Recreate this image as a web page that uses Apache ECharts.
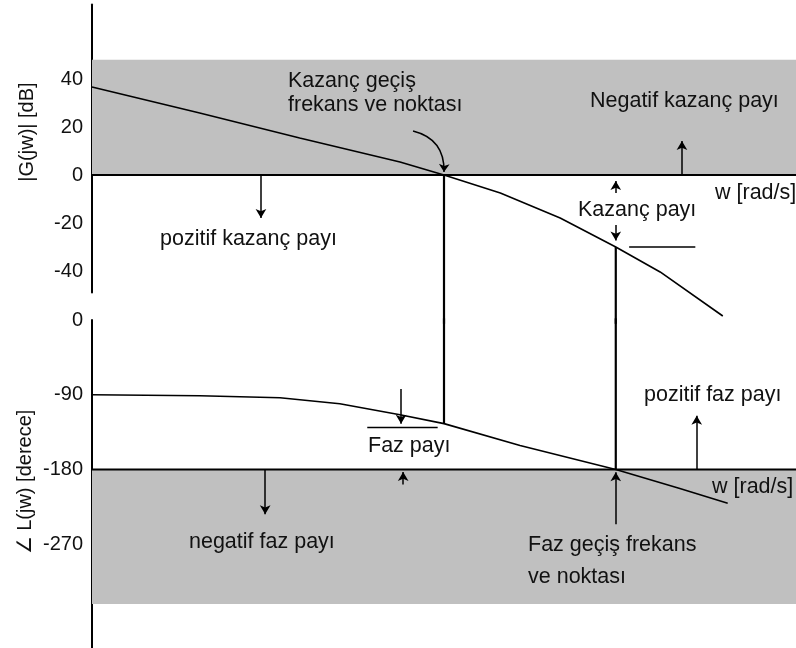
<!DOCTYPE html>
<html><head><meta charset="utf-8">
<script src="https://cdn.jsdelivr.net/npm/echarts@6/dist/echarts.min.js"></script>
<style>html,body{margin:0;padding:0;background:#fff}#c{width:796px;height:648px}</style>
</head><body><div id="c"></div>
<script>
// ---- data (x in arbitrary log-frequency units, 0..10) ----
const xGain = [0, 1.53, 2.95, 4.375, 5.0, 5.8, 6.65, 7.44, 8.07, 8.96];
const gainDb = [36.7, 25.8, 15.4, 5.4, 0, -7.5, -17.9, -30, -40.4, -58.75];
const xPhase = [0, 1.53, 2.67, 3.52, 4.375, 5.0, 6.08, 7.44, 8.35, 9.03];
const phaseDeg = [-90, -91.2, -93.6, -100.8, -114, -124.8, -151.2, -180, -202.8, -220.8];
const gainTicks = [40, 20, 0, -20, -40];
const phaseTicks = [0, -90, -180, -270];
const wGainCross = 5.0;     // kazanç geçiş frekansı
const wPhaseCross = 7.44;   // faz geçiş frekansı
const phaseAtGc = -124.8;
const gainAtPc = -30;
const gainBand = [0, 48];
const phaseBand = [-180, -342];

const FONT = '"Liberation Sans", Arial, sans-serif';
const FS = '21.5px ';
const TXT = '#111';
const chart = echarts.init(document.getElementById('c'), null, {renderer: 'canvas'});

function pairs(xs, ys) { return xs.map((x, i) => [x, ys[i]]); }
function arrow(x1, y1, x2, y2) { return [{coord: [x1, y1]}, {coord: [x2, y2]}]; }
const arrowML = (data) => ({
  silent: true, animation: false,
  symbol: ['none', 'arrow'], symbolSize: [8, 9],
  label: {show: false},
  lineStyle: {color: '#000', width: 1.5, type: 'solid'},
  emphasis: {disabled: true},
  data: data
});
const LINE = (w) => ({color: '#000', width: w});

const option = {
  animation: false,
  backgroundColor: '#fff',
  grid: [
    {left: 92, width: 704, top: 4.6, height: 288},
    {left: 92, width: 704, top: 320, height: 329.17}
  ],
  xAxis: [
    {gridIndex: 0, type: 'value', min: 0, max: 10, show: false},
    {gridIndex: 1, type: 'value', min: 0, max: 10, show: false}
  ],
  yAxis: [
    {gridIndex: 0, type: 'value', min: -49, max: 71,
     axisLine: {show: true, onZero: false, lineStyle: {color: '#000', width: 2}},
     axisTick: {show: false}, splitLine: {show: false},
     axisLabel: {customValues: gainTicks, fontSize: 20, fontFamily: FONT, color: TXT, margin: 9}},
    {gridIndex: 1, type: 'value', min: -395, max: 0,
     axisLine: {show: true, onZero: false, lineStyle: {color: '#000', width: 2}},
     axisTick: {show: false}, splitLine: {show: false},
     axisLabel: {customValues: phaseTicks, fontSize: 20, fontFamily: FONT, color: TXT, margin: 9}}
  ],
  series: [
    // gray bands
    {type: 'line', xAxisIndex: 0, yAxisIndex: 0, data: [], z: 0, silent: true,
     markArea: {silent: true, itemStyle: {color: '#c0c0c0'},
       data: [[{xAxis: 0, yAxis: gainBand[0]}, {xAxis: 10, yAxis: gainBand[1]}]]}},
    {type: 'line', xAxisIndex: 1, yAxisIndex: 1, data: [], z: 0, silent: true,
     markArea: {silent: true, itemStyle: {color: '#c0c0c0'},
       data: [[{xAxis: 0, yAxis: phaseBand[0]}, {xAxis: 10, yAxis: phaseBand[1]}]]}},
    // reference lines 0 dB and -180
    {type: 'line', xAxisIndex: 0, yAxisIndex: 0, data: [[0, 0], [10, 0]], z: 3, silent: true,
     showSymbol: false, lineStyle: LINE(2)},
    {type: 'line', xAxisIndex: 1, yAxisIndex: 1, data: [[0, -180], [10, -180]], z: 3, silent: true,
     showSymbol: false, lineStyle: LINE(2)},
    // gain curve
    {type: 'line', xAxisIndex: 0, yAxisIndex: 0, data: pairs(xGain, gainDb), clip: false,
     showSymbol: false, z: 4, silent: true, lineStyle: LINE(1.6),
     markLine: arrowML([
       arrow(8.38, 0, 8.38, 14.2),
       arrow(2.4, 0, 2.4, -17.9),
       arrow(wPhaseCross, -7.5, wPhaseCross, -2.5),
       arrow(wPhaseCross, -20.8, wPhaseCross, -27.3)
     ])},
    // curved pointer to gain crossover
    {type: 'lines', coordinateSystem: 'cartesian2d', xAxisIndex: 0, yAxisIndex: 0, z: 5, silent: true,
     symbol: ['none', 'arrow'], symbolSize: 8,
     lineStyle: {color: '#000', width: 1.5, curveness: 0.4, opacity: 1},
     data: [{coords: [[4.56, 18.3], [wGainCross, 1.25]]}]},
    // gain margin reference tick
    {type: 'line', xAxisIndex: 0, yAxisIndex: 0, data: [[7.63, gainAtPc], [8.57, gainAtPc]],
     showSymbol: false, z: 4, silent: true, lineStyle: LINE(1.5)},
    // vertical connectors (top part)
    {type: 'line', xAxisIndex: 0, yAxisIndex: 0, data: [[wGainCross, 0], [wGainCross, -62]], clip: false,
     showSymbol: false, z: 4, silent: true, lineStyle: LINE(2.2)},
    {type: 'line', xAxisIndex: 0, yAxisIndex: 0, data: [[wPhaseCross, gainAtPc], [wPhaseCross, -62]], clip: false,
     showSymbol: false, z: 4, silent: true, lineStyle: LINE(2.2)},
    // phase curve
    {type: 'line', xAxisIndex: 1, yAxisIndex: 1, data: pairs(xPhase, phaseDeg), clip: false,
     showSymbol: false, z: 4, silent: true, lineStyle: LINE(1.6),
     markLine: arrowML([
       arrow(4.39, -83, 4.39, -125),
       arrow(4.42, -198, 4.42, -183),
       arrow(8.59, -180, 8.59, -115.2),
       arrow(2.46, -180, 2.46, -234),
       arrow(wPhaseCross, -246, wPhaseCross, -183.5)
     ])},
    // phase margin reference line
    {type: 'line', xAxisIndex: 1, yAxisIndex: 1, data: [[3.91, -129.6], [4.91, -129.6]],
     showSymbol: false, z: 4, silent: true, lineStyle: LINE(1.5)},
    // vertical connectors (bottom part)
    {type: 'line', xAxisIndex: 1, yAxisIndex: 1, data: [[wGainCross, 2], [wGainCross, phaseAtGc]], clip: false,
     showSymbol: false, z: 4, silent: true, lineStyle: LINE(2.2)},
    {type: 'line', xAxisIndex: 1, yAxisIndex: 1, data: [[wPhaseCross, 2], [wPhaseCross, -180]], clip: false,
     showSymbol: false, z: 4, silent: true, lineStyle: LINE(2.2)}
  ],
  graphic: []
};

function txt(text, x, y, extra) {
  extra = extra || {};
  return {
    type: 'text', x: x, y: y, z: 100, silent: true, rotation: extra.rotation || 0,
    style: Object.assign({text: text, font: (extra.fs || FS) + FONT, fill: TXT,
      textAlign: 'left', textVerticalAlign: 'middle', align: 'left', verticalAlign: 'middle', lineHeight: 24}, extra.style || {})
  };
}
option.graphic = [
  txt('Kazanç geçiş\nfrekans ve noktası', 288, 93),
  txt('Negatif kazanç payı', 590, 101),
  txt('w [rad/s]', 715, 193),
  txt('Kazanç payı', 578, 210),
  txt('pozitif kazanç payı', 160, 239),
  txt('Faz payı', 368, 446),
  txt('pozitif faz payı', 644, 395),
  txt('w [rad/s]', 712, 487),
  txt('negatif faz payı', 189, 542),
  txt('Faz geçiş frekans\nve noktası', 528, 561, {style: {lineHeight: 32}}),
  txt('|G(jw)| [dB]', 27, 132, {fs: '20px ', rotation: Math.PI / 2, style: {textAlign: 'center', align: 'center'}}),
  txt('∠ L(jw) [derece]', 25, 482, {fs: '20px ', rotation: Math.PI / 2, style: {textAlign: 'center', align: 'center'}})
];
chart.setOption(option);
</script></body></html>
